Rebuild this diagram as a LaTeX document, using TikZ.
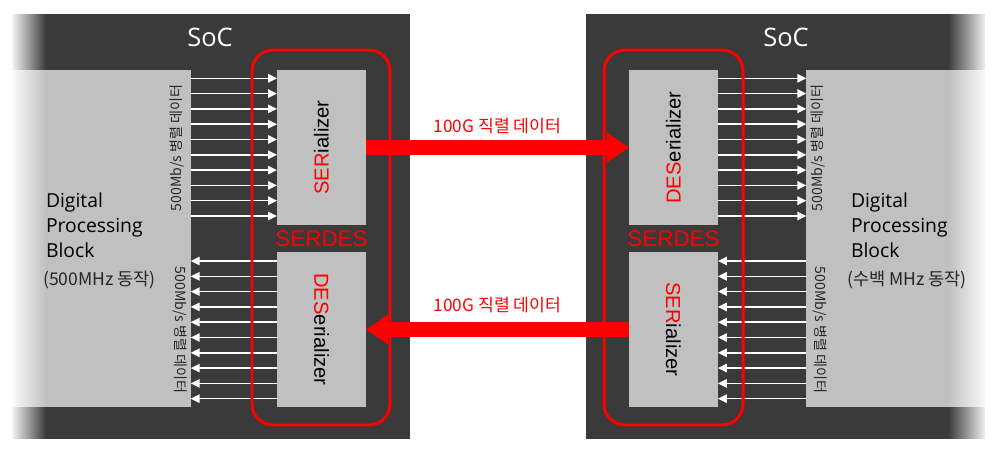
\documentclass[tikz,border=0pt]{standalone}
\usepackage{fontspec}
\usepackage{graphicx}
\setmainfont{Open Sans}
\newfontfamily\krfont{Noto Sans CJK KR}
\newfontfamily\arialfont{Liberation Sans}
\usepackage{tikz}
\usetikzlibrary{positioning,arrows.meta,fadings}
\definecolor{socdark}{HTML}{3A3A3A}
\definecolor{blockgray}{HTML}{C0C0C0}
\definecolor{serdesred}{HTML}{FF0000}
\definecolor{labelgray}{HTML}{262626}
\tikzfading[name=fadeleft, left color=transparent!5, right color=transparent!100]
\tikzfading[name=faderight, left color=transparent!100, right color=transparent!5]

\begin{document}
\begin{tikzpicture}[x=0.02cm, y=-0.02cm, inner sep=0pt, outer sep=0pt,
    socbox/.style={fill=socdark, minimum width=7.97cm, minimum height=8.5cm},
    dpblock/.style={fill=blockgray, minimum width=3.57cm, minimum height=6.74cm},
    sdblock/.style={fill=blockgray, minimum width=1.78cm, minimum height=3.1cm, font=\arialfont\fontsize{11.5}{13}\selectfont},
    soclabel/.style={text=white, font=\fontsize{14.5}{16}\selectfont},
    dplabel/.style={align=left, text=black, font=\fontsize{11}{14.2}\selectfont},
    mhzlabel/.style={text=labelgray, font=\krfont\fontsize{10}{12}\selectfont},
    ratelabel/.style={text=labelgray, font=\krfont\fontsize{8}{9}\selectfont},
    serlabel/.style={text=serdesred, font=\krfont\fontsize{9.8}{11}\selectfont},
    serdeslabel/.style={text=serdesred, font=\arialfont\fontsize{12.8}{14}\selectfont},
    serdesframe/.style={draw=serdesred, line width=1.7pt, rounded corners=0.42cm},
    dataarrow/.style={draw=white, line width=0.85pt, -{Triangle[length=0.18cm,width=0.17cm]}},
    bigarrow/.style={draw=serdesred, line width=0.3cm, -{Triangle[length=0.44cm,width=0.6cm,line width=0pt]}}]
  \useasboundingbox (0,0) rectangle (1000,455);
  % SoC chips and digital blocks
  \node[socbox] (SOCL) at (211,226.5) {};
  \node[socbox] (SOCR) at (785.5,226.5) {};
  \node[dpblock] (DPBL) at (101.5,238.5) {};
  \node[dpblock] (DPBR) at (895.5,238.5) {};
  \fill[white, path fading=fadeleft] (12,14) rectangle (46,439);
  \fill[white, path fading=faderight] (948,14) rectangle (986,439);
  % SERDES blocks
  \node[sdblock] (SERL) at (321.5,147.5) {\rotatebox{90}{\textcolor{serdesred}{SER}ializer}};
  \node[sdblock] (DESL) [below=0.54cm of SERL] {\rotatebox{-90}{\textcolor{serdesred}{DES}erializer}};
  \node[sdblock] (DESR) [right=5.26cm of SERL] {\rotatebox{90}{\textcolor{serdesred}{DES}erializer}};
  \node[sdblock] (SERR) [below=0.54cm of DESR] {\rotatebox{-90}{\textcolor{serdesred}{SER}ializer}};
  % parallel data
  \foreach \i in {0,...,9}{
    \pgfmathsetmacro{\ya}{78.3+15.3*\i}
    \pgfmathsetmacro{\yb}{261+15.3*\i}
    \draw[dataarrow] (DPBL.east |- 0,\ya) -- (SERL.west |- 0,\ya);
    \draw[dataarrow] (DESL.west |- 0,\yb) -- (DPBL.east |- 0,\yb);
    \draw[dataarrow] (DESR.east |- 0,\ya) -- (DPBR.west |- 0,\ya);
    \draw[dataarrow] (DPBR.west |- 0,\yb) -- (SERR.east |- 0,\yb);
  }
  \draw[serdesframe] (252,50) rectangle (390,425);
  \draw[serdesframe] (604,50) rectangle (743,425);
  % serial links
  \draw[bigarrow] (SERL) -- (DESR);
  \draw[bigarrow] (SERR) -- (DESL);
  \node[serlabel] (LINKA) at (497.5,126) {100G 직렬 데이터};
  \node[serlabel] (LINKB) at (497.5,305) {100G 직렬 데이터};
  % labels
  \node[soclabel] (SOCLT) at (210,37) {SoC};
  \node[soclabel] (SOCRT) at (786,37) {SoC};
  \node[serdeslabel] (SDL) at (321.5,238.5) {SERDES};
  \node[serdeslabel] (SDR) at (673.5,238.5) {SERDES};
  \node[dplabel, anchor=west] (DPTL) at (46,225) {Digital\\Processing\\Block};
  \node[dplabel, anchor=west] (DPTR) at (851,225) {Digital\\Processing\\Block};
  \node[mhzlabel] (MHZL) at (99.5,280) {(500MHz 동작)};
  \node[mhzlabel] (MHZR) at (907,280) {(수백 MHz 동작)};
  \node[ratelabel, rotate=90] (RATELA) at (177,148) {500Mb/s 병렬 데이터};
  \node[ratelabel, rotate=-90] (RATELB) at (180,330) {500Mb/s 병렬 데이터};
  \node[ratelabel, rotate=90] (RATERA) at (818,148) {500Mb/s 병렬 데이터};
  \node[ratelabel, rotate=-90] (RATERB) at (820,330) {500Mb/s 병렬 데이터};
\end{tikzpicture}
\end{document}
